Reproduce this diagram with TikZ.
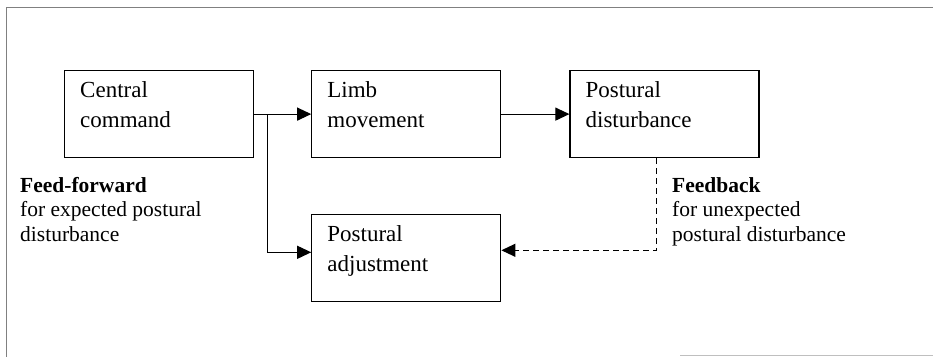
\documentclass[tikz,border=0pt]{standalone}
\usepackage{fontspec}
\setmainfont{Liberation Serif}
\usetikzlibrary{positioning,arrows.meta}

\begin{document}
\begin{tikzpicture}[x=1pt, y=-1pt, node distance=55pt,
  every node/.style={font=\fontsize{21.5}{24.5}\selectfont},
  box/.style={draw, line width=1.2pt, minimum width=189pt, minimum height=87pt, inner sep=0pt},
  boxtext/.style={anchor=north west, align=left, inner sep=0pt, xshift=16pt, yshift=-11pt,
    font=\fontsize{23}{30}\selectfont},
  note/.style={anchor=north west, align=left, inner sep=0pt},
  arr/.style={-{Triangle[length=14pt,width=13pt]}, line width=1.1pt}]
  \useasboundingbox (0,0) rectangle (933,357);
  % outer frame
  \draw[gray, line width=1pt] (933,7) -- (6,7) -- (6,357);
  \draw[gray!50, line width=1pt] (680,355) -- (933,355);
  % boxes
  \node[box, anchor=north west] (cmd) at (64,70) {};
  \node[box, right=57pt of cmd] (limb) {};
  \node[box, right=68pt of limb] (dist) {};
  \node[box, below=56pt of limb] (adj) {};
  \node[boxtext] (cmdtxt) at (cmd.north west) {Central\\command};
  \node[boxtext] (limbtxt) at (limb.north west) {Limb\\movement};
  \node[boxtext] (disttxt) at (dist.north west) {Postural\\disturbance};
  \node[boxtext] (adjtxt) at (adj.north west) {Postural\\adjustment};
  % side notes
  \node[note] (ffwd) at (20,177) {\textbf{Feed-forward}\\for expected postural\\disturbance};
  \node[note] (fback) at (672,177) {\textbf{Feedback}\\for unexpected\\postural disturbance};
  % connectors
  \coordinate[right=13pt of cmd.east] (br);
  \draw[arr] (cmd.east) -- (limb.west);
  \draw[arr] (limb.east) -- (dist.west);
  \draw[arr] (br) |- ([yshift=6pt]adj.west);
  \draw[arr, dash pattern=on 6pt off 4pt] ([xshift=-8pt]dist.south) |- ([yshift=8pt]adj.east);
\end{tikzpicture}
\end{document}
